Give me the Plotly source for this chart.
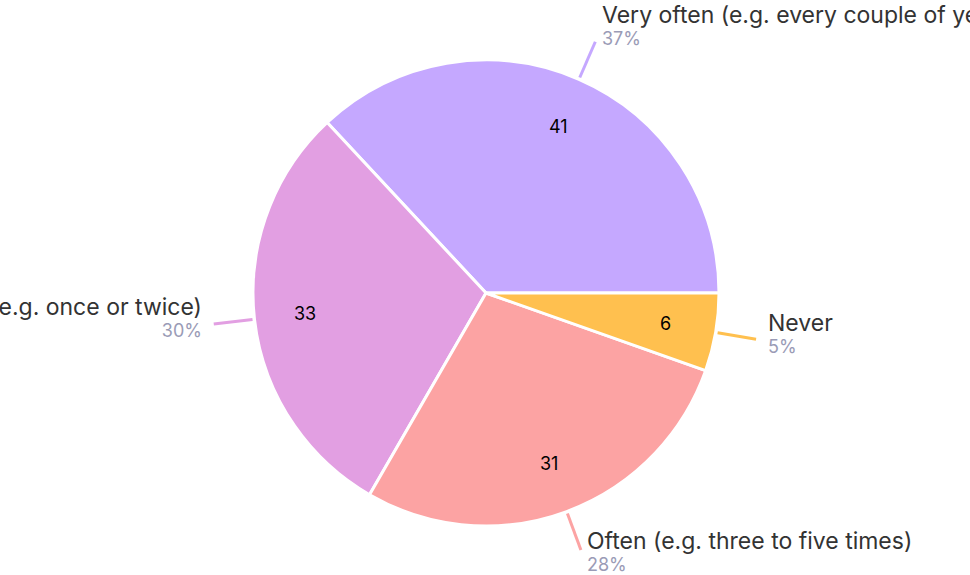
import math
import plotly.graph_objects as go

# ---- data ----
labels = ["Very often (e.g. every couple of years)",
          "Sometimes (e.g. once or twice)",
          "Often (e.g. three to five times)",
          "Never"]
values = [41, 33, 31, 6]
colors = ["#C5A8FF", "#E29FE2", "#FCA3A3", "#FFC04F"]

W, H = 970, 575
CX, CY, R = 486, 293, 233     # pie centre / radius in pixels
FONT = "Inter"

total = sum(values)
first_span = values[0] / total * 360

fig = go.Figure(go.Pie(
    labels=labels, values=values, sort=False,
    direction="counterclockwise", rotation=90 - first_span,
    marker=dict(colors=colors, line=dict(color="white", width=3)),
    textinfo="none", hoverinfo="label+value+percent",
    domain=dict(x=[(CX - R) / W, (CX + R) / W],
                y=[1 - (CY + R) / H, 1 - (CY - R) / H]),
    showlegend=False,
))

def px(x):
    return x / W

def py(y):
    return 1 - y / H

annotations = []
shapes = []
start = 0.0
for lab, v, c in zip(labels, values, colors):
    span = v / total * 360
    mid = math.radians(start + span / 2)
    start += span
    ca, sa = math.cos(mid), math.sin(mid)
    # inside value
    ri = 0.78 * R
    annotations.append(dict(
        x=px(CX + ri * ca), y=py(CY - ri * sa), xref="paper", yref="paper",
        text=str(v), showarrow=False, xanchor="center", yanchor="middle",
        font=dict(family=FONT, size=18, color="#000000")))
    # leader line
    x0, y0 = CX + (R + 2) * ca, CY - (R + 2) * sa
    x1, y1 = CX + (R + 41) * ca, CY - (R + 41) * sa
    shapes.append(dict(type="line", xref="paper", yref="paper",
                       x0=px(x0), y0=py(y0), x1=px(x1), y1=py(y1),
                       line=dict(color=c, width=3)))
    # outside label
    gap = 1 + 9 * abs(ca)
    right = ca >= 0
    lx = x1 + gap if right else x1 - gap
    ly = y1 - 8 - 10 * sa
    pct = round(v / total * 100)
    annotations.append(dict(
        x=px(lx), y=py(ly), xref="paper", yref="paper",
        text=(f"<span style='font-size:23px;color:#333333'>{lab}</span><br>"
              f"<span style='font-size:18px;color:#9A9BB6'>{pct}%</span>"),
        showarrow=False, xanchor="left" if right else "right",
        yanchor="middle", align="left" if right else "right",
        font=dict(family=FONT, size=17, color="#333333")))

fig.update_layout(
    width=W, height=H,
    margin=dict(l=0, r=0, t=0, b=0),
    paper_bgcolor="white", plot_bgcolor="white",
    annotations=annotations, shapes=shapes,
    font=dict(family=FONT),
)

fig.write_html("out.html",
               config={"displayModeBar": False},
               post_script="document.body.style.margin='0';"
                           "document.body.style.overflow='hidden';")
